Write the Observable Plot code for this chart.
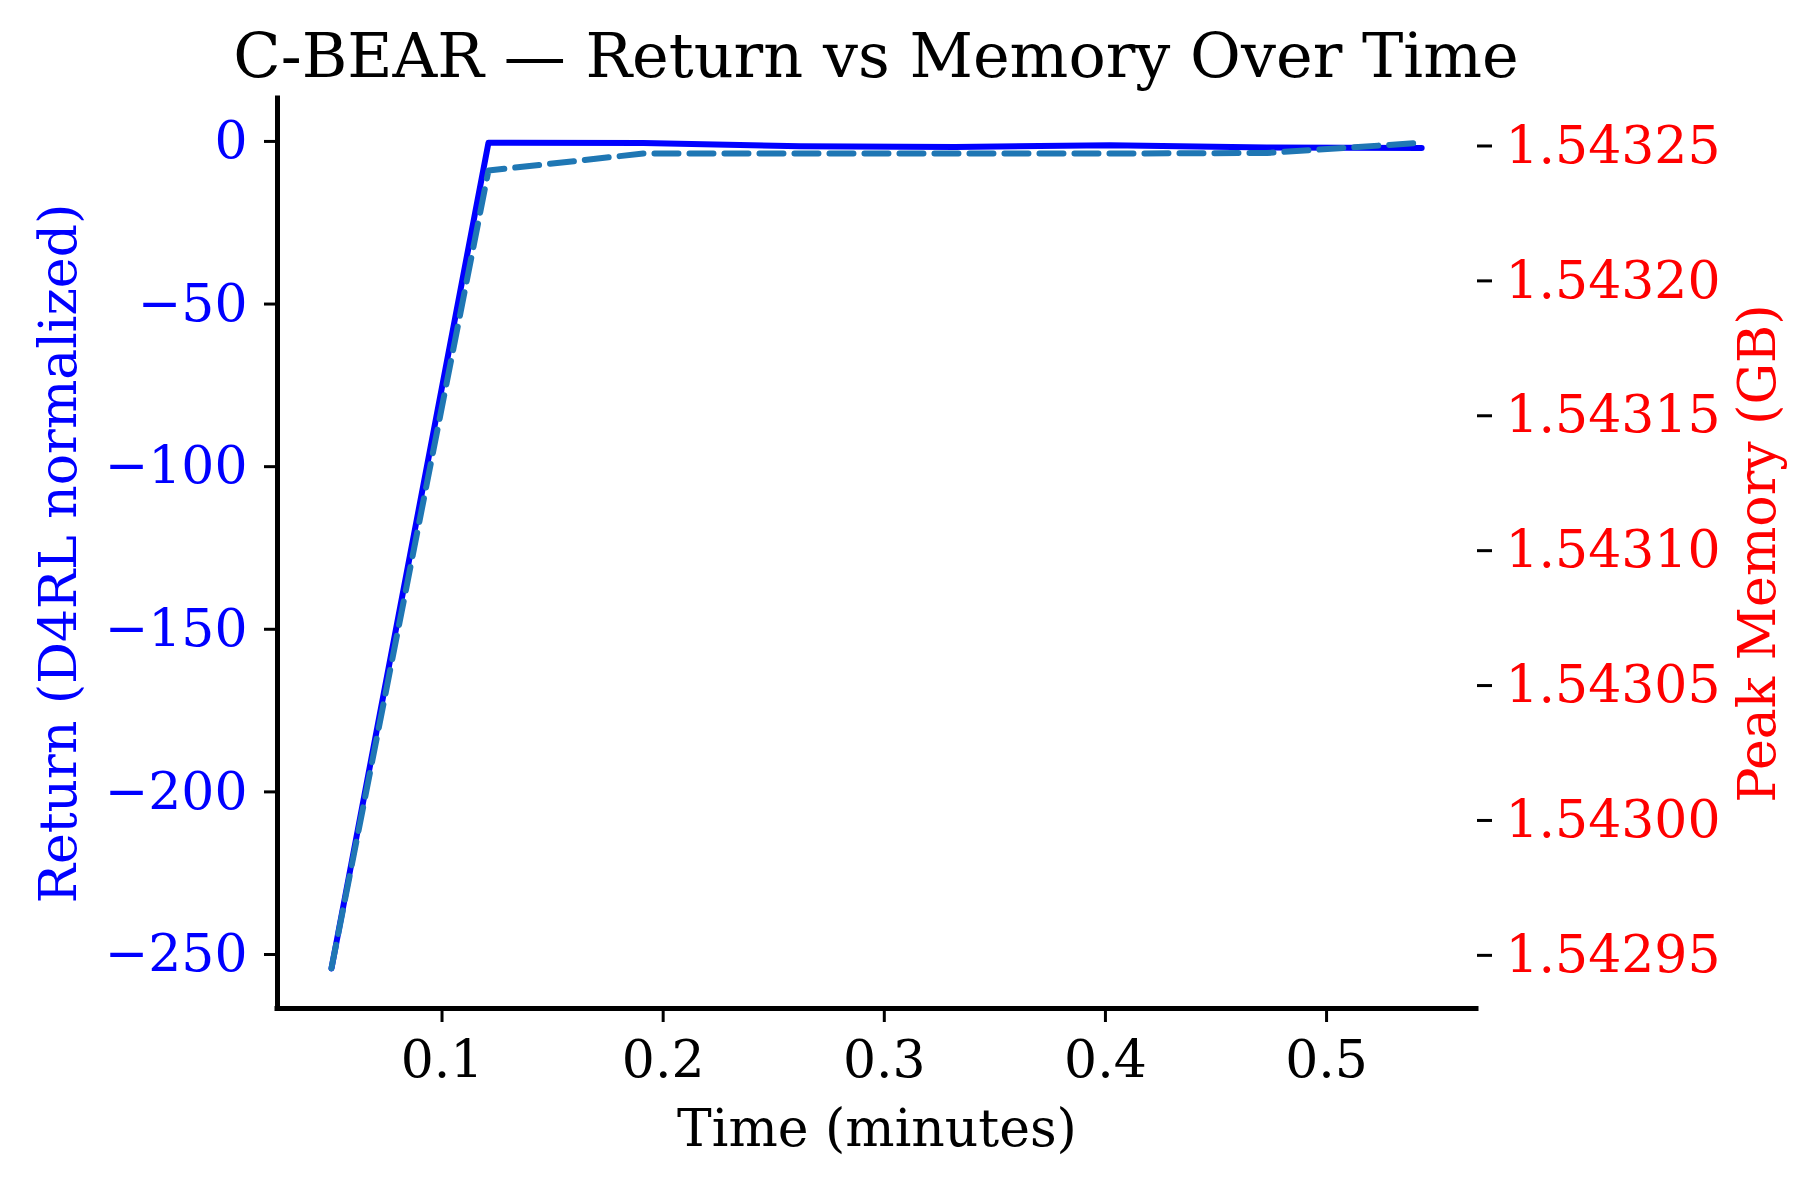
<!DOCTYPE html>
<html>
<head>
<meta charset="utf-8">
<script src="https://cdn.jsdelivr.net/npm/d3@7"></script>
<script src="https://cdn.jsdelivr.net/npm/@observablehq/plot@0.6"></script>
<style>
  body { margin: 0; background: #fff; }
  #wrap { position: relative; width: 1805px; height: 1177px; background: #fff; font-family: "DejaVu Serif", serif; }
  #chart { position: absolute; left: 0; top: 0; }
  #title { position: absolute; left: 0; top: 25px; width: 1752px; text-align: center; font-size: 62px; line-height: 62px; color: #000; z-index: 2; white-space: nowrap; }
</style>
</head>
<body>
<div id="wrap">
  <div id="chart"></div>
  <div id="title">C-BEAR — Return vs Memory Over Time</div>
</div>
<script>
// ---- data ----
const times   = [0.050, 0.121, 0.191, 0.262, 0.332, 0.402, 0.473, 0.543];
const returns = [-254.3, -0.4, -0.5, -1.5, -1.7, -1.2, -1.9, -2.0];
const memory  = [1.5429452, 1.5432409, 1.5432472, 1.5432472, 1.5432472, 1.5432472, 1.5432474, 1.5432512];

const xTicks = [0.1, 0.2, 0.3, 0.4, 0.5];
const returnTicks = [0, -50, -100, -150, -200, -250];
const memoryTicks = [1.54295, 1.54300, 1.54305, 1.54310, 1.54315, 1.54320, 1.54325];
const memoryTickLabels = ["1.54295", "1.54300", "1.54305", "1.54310", "1.54315", "1.54320", "1.54325"];

const titleText = "C-BEAR — Return vs Memory Over Time";
const xLabel = "Time (minutes)";
const yLeftLabel = "Return (D4RL normalized)";
const yRightLabel = "Peak Memory (GB)";

// ---- scales (twin axes) ----
const xDomain = [0.0256, 0.5678];
const returnDomain = [-266.6, 13.2];
const memoryDomain = [1.5429303, 1.5432676];
const toR = m => returnDomain[0] + (m - memoryDomain[0]) / (memoryDomain[1] - memoryDomain[0]) * (returnDomain[1] - returnDomain[0]);

const rows = times.map((t, i) => ({t, r: returns[i], m: toR(memory[i])}));
const memTickPos = memoryTicks.map(toR);
const fmtMinus = d => d < 0 ? "\u2212" + Math.abs(d) : String(d);

document.getElementById("title").textContent = titleText;

const FS = 52;
const chart = Plot.plot({
  width: 1805,
  height: 1177,
  marginLeft: 277,
  marginRight: 329,
  marginTop: 98,
  marginBottom: 169,
  style: { fontFamily: "DejaVu Serif", fontSize: FS + "px", background: "transparent", overflow: "visible" },
  x: { domain: xDomain },
  y: { domain: returnDomain },
  marks: [
    Plot.line(rows, { x: "t", y: "r", stroke: "#0000ff", strokeWidth: 6 }),
    Plot.line(rows, { x: "t", y: "m", stroke: "#1f77b4", strokeWidth: 6, strokeDasharray: "24,11" }),
    Plot.ruleX([xDomain[0]], { stroke: "black", strokeWidth: 5, strokeLinecap: "square" }),
    Plot.ruleY([returnDomain[0]], { stroke: "black", strokeWidth: 5, strokeLinecap: "square" }),
    Plot.axisX({ ticks: xTicks, tickFormat: d => d.toFixed(1), tickSize: 14, tickPadding: 18, strokeWidth: 3, stroke: "black", fill: "black", fontSize: FS, label: null }),
    Plot.axisY({ anchor: "left", ticks: returnTicks, tickFormat: fmtMinus, tickSize: 13, tickPadding: 17, strokeWidth: 3, stroke: "black", fill: "#0000ff", fontSize: FS, label: null }),
    Plot.axisY({ anchor: "right", ticks: memTickPos, tickFormat: (d) => memoryTickLabels[memTickPos.indexOf(d)], tickSize: 15, tickPadding: 14, strokeWidth: 3, stroke: "black", fill: "#ff0000", fontSize: FS, label: null }),
    Plot.text([yLeftLabel], { text: d => d, frameAnchor: "left", textAnchor: "middle", lineAnchor: "middle", rotate: -90, dx: -218, fill: "#0000ff", fontSize: FS }),
    Plot.text([yRightLabel], { text: d => d, frameAnchor: "right", textAnchor: "middle", lineAnchor: "middle", rotate: -90, dx: 282, fill: "#ff0000", fontSize: FS }),
    Plot.text([xLabel], { text: d => d, frameAnchor: "bottom", textAnchor: "middle", lineAnchor: "middle", dy: 121, fill: "black", fontSize: FS })
  ]
});
document.getElementById("chart").appendChild(chart);
</script>
</body>
</html>
